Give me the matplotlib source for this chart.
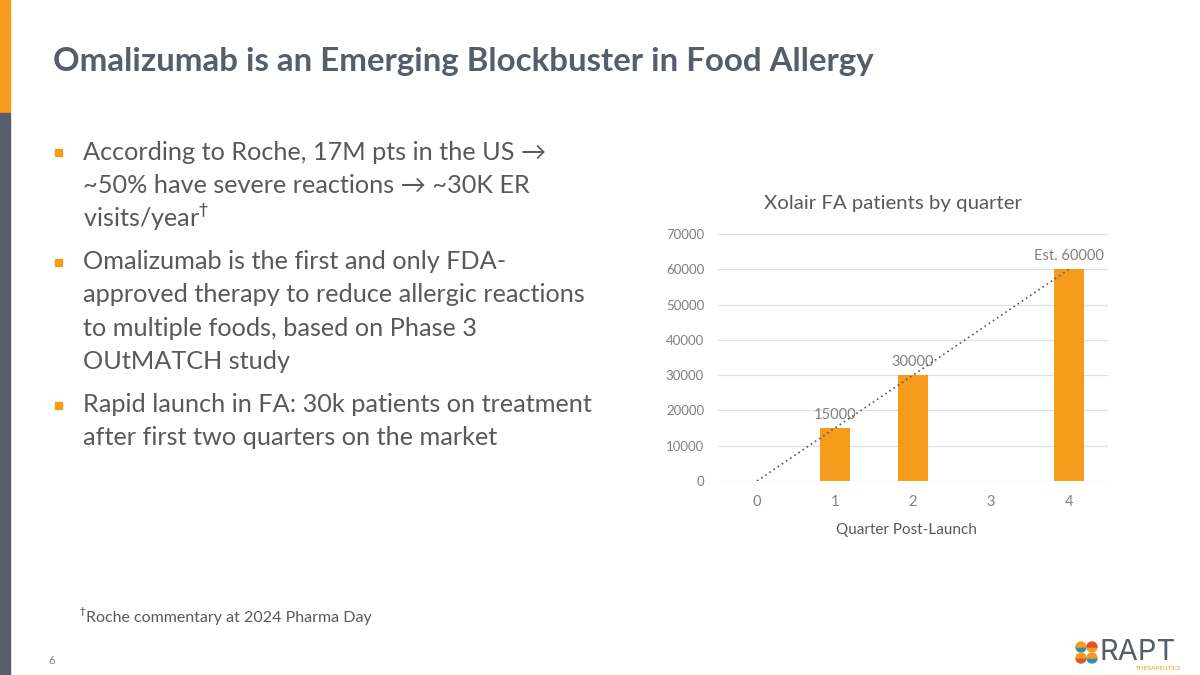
import numpy as np
import matplotlib
matplotlib.use("Agg")
import matplotlib.pyplot as plt
from matplotlib.patches import Rectangle, Wedge

# ---- data ----
quarters = [0, 1, 2, 3, 4]
patients = [0, 15000, 30000, np.nan, 60000]
bar_labels = ["", "15000", "30000", "", "Est. 60000"]
yticks = [0, 10000, 20000, 30000, 40000, 50000, 60000, 70000]

chart_title = "Xolair FA patients by quarter"
x_label = "Quarter Post-Launch"
slide_title = "Omalizumab is an Emerging Blockbuster in Food Allergy"
bullets = [
    ["According to Roche, 17M pts in the US \u2192",
     "~50% have severe reactions \u2192 ~30K ER",
     "visits/year$^{\u2020}$"],
    ["Omalizumab is the first and only FDA-",
     "approved therapy to reduce allergic reactions",
     "to multiple foods, based on Phase 3",
     "OUtMATCH study"],
    ["Rapid launch in FA: 30k patients on treatment",
     "after first two quarters on the market"],
]
footnote = "Roche commentary at 2024 Pharma Day"

ORANGE = "#F79B1C"
SLATE = "#555E6A"
TEXT = "#595959"
TICK = "#808080"

plt.rcParams['font.family'] = ['Lato', 'DejaVu Sans']

W, H = 1200, 675
fig = plt.figure(figsize=(12, 6.75), dpi=100)

def fx(px):
    return px / W

def fy(py):
    return 1 - py / H

# left bars
fig.patches.append(Rectangle((0, fy(113)), fx(10), 113 / H, transform=fig.transFigure,
                             color=ORANGE, zorder=0))
fig.patches.append(Rectangle((0, 0), fx(10), fy(113), transform=fig.transFigure,
                             color=SLATE, zorder=0))

# title
fig.text(fx(53), fy(62), slide_title, fontsize=23.8, fontweight='bold', color=SLATE,
         va='center', ha='left')

# bullets
line_h = 33.3
para_gap = 43
y = 152
for para in bullets:
    fig.patches.append(Rectangle((fx(55), fy(y + 4)), fx(7), 7 / H, transform=fig.transFigure,
                                 color=ORANGE))
    for i, line in enumerate(para):
        fig.text(fx(83), fy(y), line, fontsize=18.2, color=TEXT, va='center', ha='left',
                 family=['Lato', 'DejaVu Sans'])
        if i < len(para) - 1:
            y += line_h
    y += para_gap

# footnote
fig.text(fx(80), fy(611), "\u2020", fontsize=8, color=TEXT, va='center', ha='left',
         family=['DejaVu Sans'])
fig.text(fx(86), fy(618), footnote, fontsize=11.5, color=TEXT, va='center', ha='left')
fig.text(fx(52), fy(661), "6", fontsize=8, color=TICK, va='center', ha='center')

# chart
ax = fig.add_axes([fx(718), fy(481), fx(1108 - 718), (481 - 234) / H])
xs = np.array(quarters)
vals = np.array(patients, dtype=float)
mask = ~np.isnan(vals)
ax.bar(xs[mask], vals[mask], width=0.38, color=ORANGE, zorder=3)
for x, v, lab in zip(xs, vals, bar_labels):
    if lab:
        ax.text(x, v + 1800, lab, ha='center', va='bottom', fontsize=10.5, color=TICK, zorder=4)
# linear trendline
coef = np.polyfit(xs[mask], vals[mask], 1)
tx = np.array([xs.min(), xs.max()])
ax.plot(tx, np.polyval(coef, tx), linestyle=(0, (1, 2)), color='#595959', lw=1.2, zorder=5)

ax.set_xlim(-0.5, 4.5)
ax.set_ylim(0, 70000)
ax.set_yticks(yticks)
ax.set_yticklabels([str(v) for v in yticks])
ax.set_xticks(quarters)
ax.grid(axis='y', color='#E0E0E0', lw=0.9, zorder=0)
ax.set_axisbelow(True)
for s in ax.spines.values():
    s.set_visible(False)
ax.tick_params(axis='both', length=0, colors=TICK, labelsize=9.5)
ax.tick_params(axis='y', pad=10)
ax.tick_params(axis='x', labelsize=10.5, pad=10)
fig.text(fx(893), fy(204), chart_title, fontsize=14.7, color=TEXT, ha='center', va='center')
fig.text(fx(906), fy(530), x_label, fontsize=11, color=TEXT, ha='center', va='center')

# logo
lax = fig.add_axes([0, 0, 1, 1], facecolor='none')
lax.set_xlim(0, W)
lax.set_ylim(H, 0)
lax.axis('off')
r = 5
cols = [("#2E8FB8", ORANGE, 1081, 647), (ORANGE, "#E2502A", 1092, 647),
        ("#E2502A", ORANGE, 1081, 658), ("#2E8FB8", ORANGE, 1092, 658)]
for c1, c2, cx, cy in cols:
    lax.add_patch(Wedge((cx, cy), r, 0, 180, color=c1))
    lax.add_patch(Wedge((cx, cy), r, 180, 360, color=c2))
lax.text(1099, 653, "RAPT", fontsize=21, color=SLATE, va='center', ha='left',
         family=['Inter', 'DejaVu Sans'])
lax.text(1181, 668, "THERAPEUTICS", fontsize=4.5, color=ORANGE, va='center', ha='right')

fig.savefig("out.png", dpi=100, facecolor='white')
